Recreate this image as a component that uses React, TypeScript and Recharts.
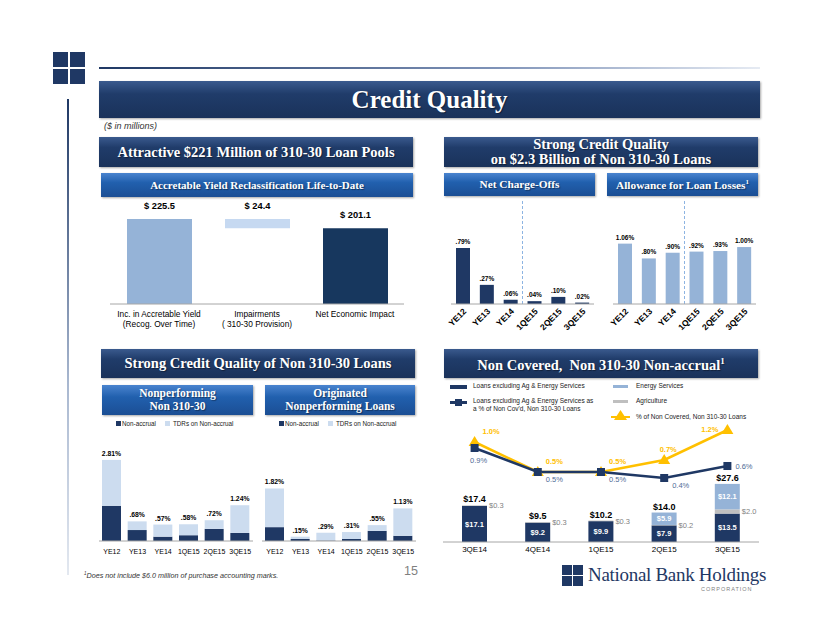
import React from 'react'
import {
  BarChart,
  Bar,
  ComposedChart,
  Line,
  XAxis,
  YAxis,
  LabelList,
  ReferenceLine,
  Cell,
} from 'recharts'

const SANS = "'Liberation Sans', Arial, sans-serif"
const SERIF = "'Liberation Serif', 'Times New Roman', serif"
const NAVY = '#1F3864'
const LIGHT_BLUE = '#95B3D7'
const PALE_BLUE = '#CCDCEF'
const GOLD = '#FFC000'
const AXIS = '#A6A6A6'

// accretable yield waterfall
const ayCategories = ['Inc. in Accretable Yield\n(Recog. Over Time)', 'Impairments\n( 310-30 Provision)', 'Net Economic Impact']
const ayValues = [225.5, 24.4, 201.1]
const ayBase = [0, 201.1, 0] // hidden part under the floating impairment bar
const ayLabels = ['$ 225.5', '$ 24.4', '$ 201.1']
const ayColors = [LIGHT_BLUE, '#C6D9F1', '#17375E']

// net charge-offs / allowance
const periods = ['YE12', 'YE13', 'YE14', '1QE15', '2QE15', '3QE15']
const ncoValues = [0.79, 0.27, 0.06, 0.04, 0.1, 0.02]
const ncoLabels = ['.79%', '.27%', '.06%', '.04%', '.10%', '.02%']
const allowValues = [1.06, 0.8, 0.9, 0.92, 0.93, 1.0]
const allowLabels = ['1.06%', '.80%', '.90%', '.92%', '.93%', '1.00%']

// nonperforming non 310-30
const npNonAccrual = [1.22, 0.38, 0.15, 0.2, 0.42, 0.28]
const npTdr = [1.59, 0.3, 0.42, 0.38, 0.3, 0.96]
const npLabels = ['2.81%', '.68%', '.57%', '.58%', '.72%', '1.24%']

// originated nonperforming
const orgNonAccrual = [0.48, 0.07, 0.02, 0.07, 0.35, 0.18]
const orgTdr = [1.34, 0.08, 0.27, 0.24, 0.2, 0.95]
const orgLabels = ['1.82%', '.15%', '.29%', '.31%', '.55%', '1.13%']

// non covered non-accrual
const nacCategories = ['3QE14', '4QE14', '1QE15', '2QE15', '3QE15']
const nacLoansExcl = [17.1, 9.2, 9.9, 7.9, 13.5]
const nacAg = [0.3, 0.3, 0.3, 0.2, 2.0]
const nacEnergy = [0, 0, 0, 5.9, 12.1]
const nacTotal = [17.4, 9.5, 10.2, 14.0, 27.6]
const nacExclPct = [0.9, 0.5, 0.5, 0.4, 0.6]
const nacTotalPct = [1.0, 0.5, 0.5, 0.7, 1.2]

const ayData = ayCategories.map((name, i) => ({ name, base: ayBase[i], value: ayValues[i], label: ayLabels[i] }))
const ncoData = periods.map((name, i) => ({ name, value: ncoValues[i], label: ncoLabels[i] }))
const allowData = periods.map((name, i) => ({ name, value: allowValues[i], label: allowLabels[i] }))
const npData = periods.map((name, i) => ({ name, na: npNonAccrual[i], tdr: npTdr[i], label: npLabels[i] }))
const orgData = periods.map((name, i) => ({ name, na: orgNonAccrual[i], tdr: orgTdr[i], label: orgLabels[i] }))
const nacData = nacCategories.map((name, i) => ({
  name,
  excl: nacLoansExcl[i],
  ag: nacAg[i],
  energy: nacEnergy[i],
  total: nacTotal[i],
  exclPct: nacExclPct[i],
  totalPct: nacTotalPct[i],
}))

const money = (v: any) => `$${Number(v).toFixed(1)}`

const Header = ({ x, y, w, h, size, light, lh, children }: any) => (
  <div
    style={{
      position: 'absolute',
      left: x,
      top: y,
      width: w,
      height: h,
      background: light
        ? 'linear-gradient(#4A84CF, #2160AE 40%, #1B4E94)'
        : 'linear-gradient(#3A5A8E, #203C6A 35%, #1A325A)',
      boxShadow: '1px 1px 2px rgba(0,0,0,0.35)',
      color: '#fff',
      fontFamily: SERIF,
      fontWeight: 'bold',
      fontSize: size,
      lineHeight: `${lh || size}px`,
      display: 'flex',
      alignItems: 'center',
      justifyContent: 'center',
      textAlign: 'center',
      textShadow: '1px 1px 1px rgba(0,0,0,0.4)',
    }}
  >
    <div>{children}</div>
  </div>
)

const TwoLineTick = ({ x, y, payload }: any) => {
  const lines = String(payload.value).split('\n')
  return (
    <text x={x} y={y + 5} textAnchor="middle" fontSize={8.3} fill="#000" fontFamily={SANS}>
      {lines.map((l, i) => (
        <tspan key={i} x={x} dy={i === 0 ? 0 : 9.5}>
          {l}
        </tspan>
      ))}
    </text>
  )
}

const RotatedTick = ({ x, y, payload }: any) => (
  <text
    x={x + 4}
    y={y}
    textAnchor="end"
    transform={`rotate(-45 ${x + 4} ${y})`}
    fontSize={8.5}
    fontWeight="bold"
    fill="#000"
    fontFamily={SANS}
  >
    {payload.value}
  </text>
)

const PlainTick = ({ x, y, payload, dy, size }: any) => (
  <text x={x} y={y + (dy || 5)} textAnchor="middle" fontSize={size || 8} fill="#000" fontFamily={SANS}>
    {payload.value}
  </text>
)

const SquareDot = (p: any) =>
  p.cx == null ? null : <rect key={p.index} x={p.cx - 4} y={p.cy - 4} width={8} height={8} fill={NAVY} />

const TriDot = (p: any) =>
  p.cx == null ? null : (
    <polygon
      key={p.index}
      points={`${p.cx},${p.cy - 6} ${p.cx + 6},${p.cy + 4} ${p.cx - 6},${p.cy + 4}`}
      fill={GOLD}
    />
  )

const GoldLabel = (p: any) => {
  const last = p.index === nacData.length - 1
  const rising = p.index === nacData.length - 2
  const x = last ? p.x - 9 : rising ? p.x + 4 : p.x + 8
  const anchor = last ? 'end' : rising ? 'middle' : 'start'
  return (
    <text x={x} y={last ? p.y + 2 : p.y - 8} textAnchor={anchor} fill={GOLD} fontSize={7.5} fontWeight="bold" fontFamily={SANS}>
      {`${Number(p.value).toFixed(1)}%`}
    </text>
  )
}

const NavyLabel = (p: any) => {
  const first = p.index === 0
  const last = p.index === nacData.length - 1
  return (
    <text
      x={first ? p.x + 4 : p.x + 8}
      y={first ? p.y + 15 : last ? p.y + 3 : p.y + 10}
      textAnchor={first ? 'middle' : 'start'}
      fill="#4E6B96"
      fontSize={7.5}
      fontFamily={SANS}
    >
      {`${Number(p.value).toFixed(1)}%`}
    </text>
  )
}

const TotalLabel = (p: any) => (
  <text x={p.x} y={p.y - 3} textAnchor="middle" fill="#000" fontSize={9} fontWeight="bold" fontFamily={SANS}>
    {money(p.value)}
  </text>
)

const SmallBarChart = ({ data, color, max, refColor }: any) => (
  <BarChart width={156} height={136} data={data} margin={{ top: 0, right: 4, left: 9, bottom: 0 }} barSize={14}>
    <XAxis
      dataKey="name"
      interval={0}
      tickLine={false}
      axisLine={{ stroke: AXIS }}
      height={32}
      tick={<RotatedTick />}
    />
    <YAxis hide domain={[0, max]} allowDataOverflow />
    <ReferenceLine x="1QE15" position="start" stroke={refColor} strokeDasharray="3 2" ifOverflow="visible" />
    <Bar dataKey="value" fill={color} isAnimationActive={false}>
      <LabelList dataKey="label" position="top" offset={4} fontSize={6.5} fontWeight="bold" fill="#000" fontFamily={SANS} />
    </Bar>
  </BarChart>
)

const StackedChart = ({ data }: any) => (
  <BarChart width={165} height={121} data={data} margin={{ top: 0, right: 7, left: 4, bottom: 0 }} barSize={19}>
    <XAxis
      dataKey="name"
      interval={0}
      tickLine={false}
      axisLine={{ stroke: AXIS }}
      height={20}
      tick={<PlainTick dy={5} size={7} />}
    />
    <YAxis hide domain={[0, 3.5]} />
    <Bar dataKey="na" stackId="a" fill={NAVY} isAnimationActive={false} />
    <Bar dataKey="tdr" stackId="a" fill={PALE_BLUE} isAnimationActive={false}>
      <LabelList dataKey="label" position="top" offset={4} fontSize={6.8} fontWeight="bold" fill="#000" fontFamily={SANS} />
    </Bar>
  </BarChart>
)

const MiniLegend = ({ x, y }: any) => (
  <div style={{ position: 'absolute', left: x, top: y, fontFamily: SANS, fontSize: 6.3, color: '#222', whiteSpace: 'nowrap', display: 'flex', alignItems: 'center' }}>
    <span style={{ display: 'inline-block', width: 5, height: 5, background: NAVY, marginRight: 1 }} />
    <span>Non-accrual</span>
    <span style={{ display: 'inline-block', width: 5, height: 5, background: PALE_BLUE, marginLeft: 9, marginRight: 3 }} />
    <span>TDRs on Non-accrual</span>
  </div>
)

const legendText: any = { position: 'absolute', fontFamily: SANS, fontSize: 6.5, color: '#222', whiteSpace: 'nowrap', lineHeight: '8px' }

export default function App() {
  return (
    <div style={{ position: 'absolute', left: 0, top: 0, width: 822, height: 635, background: '#fff', overflow: 'hidden', fontFamily: SANS }}>
      {/* frame decorations */}
      {[0, 1].map((r) =>
        [0, 1].map((c) => (
          <div key={`${r}${c}`} style={{ position: 'absolute', left: 53 + c * 17, top: 52 + r * 17, width: 15, height: 15, background: NAVY }} />
        ))
      )}
      <div style={{ position: 'absolute', left: 99, top: 67, width: 661, height: 2, background: 'linear-gradient(to right, #1F3864, #7F93B8 60%, #E6EBF3)' }} />
      <div style={{ position: 'absolute', left: 67, top: 99, width: 2, height: 476, background: 'linear-gradient(#1F3864, #A9B8D0 60%, #E3E8F0)' }} />

      <Header x={99} y={81} w={661} h={37} size={25}>Credit Quality</Header>
      <div style={{ position: 'absolute', left: 104, top: 121, fontSize: 9, fontStyle: 'italic', color: '#333' }}>($ in millions)</div>

      <Header x={99} y={137} w={314} h={30} size={14.5}>Attractive $221 Million of 310-30 Loan Pools</Header>
      <Header x={444} y={137} w={314} h={30} size={14.5} lh={15}>
        Strong Credit Quality
        <br />
        on $2.3 Billion of Non 310-30 Loans
      </Header>
      <Header x={101} y={173} w={312} h={24} size={11} light>Accretable Yield Reclassification Life-to-Date</Header>
      <Header x={444} y={173} w={151} h={23} size={11.3} light>Net Charge-Offs</Header>
      <Header x={607} y={173} w={151} h={23} size={11.3} light>
        Allowance for Loan Losses<sup style={{ fontSize: 7 }}>1</sup>
      </Header>

      {/* accretable yield waterfall */}
      <div style={{ position: 'absolute', left: 97, top: 198 }}>
        <BarChart width={320} height={135} data={ayData} margin={{ top: 0, right: 13, left: 13, bottom: 0 }} barSize={65}>
          <XAxis dataKey="name" interval={0} tickLine={false} axisLine={{ stroke: AXIS }} height={29} tick={<TwoLineTick />} />
          <YAxis hide domain={[0, 281]} />
          <Bar dataKey="base" stackId="w" fill="transparent" isAnimationActive={false} />
          <Bar dataKey="value" stackId="w" isAnimationActive={false}>
            {ayData.map((d, i) => (
              <Cell key={d.name} fill={ayColors[i]} />
            ))}
            <LabelList dataKey="label" position="top" offset={10} fontSize={9.3} fontWeight="bold" fill="#000" fontFamily={SANS} />
          </Bar>
        </BarChart>
      </div>

      {/* net charge-offs */}
      <div style={{ position: 'absolute', left: 442, top: 200 }}>
        <SmallBarChart data={ncoData} color={NAVY} max={1.467} refColor="#8DB4E2" />
      </div>

      {/* allowance */}
      <div style={{ position: 'absolute', left: 604, top: 200 }}>
        <SmallBarChart data={allowData} color={LIGHT_BLUE} max={1.826} refColor="#8DB4E2" />
      </div>

      <Header x={101} y={349} w={314} h={29} size={14.5}>Strong Credit Quality of Non 310-30 Loans</Header>
      <Header x={444} y={349} w={314} h={29} size={14.5}>
        Non Covered,&nbsp; Non 310-30 Non-accrual<sup style={{ fontSize: 9 }}>1</sup>
      </Header>
      <Header x={102} y={385} w={151} h={30} size={11.5} lh={13} light>
        Nonperforming
        <br />
        Non 310-30
      </Header>
      <Header x={265} y={385} w={150} h={30} size={11.5} lh={13} light>
        Originated
        <br />
        Nonperforming Loans
      </Header>

      <MiniLegend x={116} y={420} />
      <MiniLegend x={279} y={420} />

      <div style={{ position: 'absolute', left: 95, top: 440 }}>
        <StackedChart data={npData} />
      </div>
      <div style={{ position: 'absolute', left: 258, top: 440 }}>
        <StackedChart data={orgData} />
      </div>

      {/* non covered legend */}
      <div style={{ position: 'absolute', left: 450, top: 385, width: 17, height: 4, background: NAVY }} />
      <div style={{ ...legendText, left: 473, top: 382 }}>Loans excluding Ag &amp; Energy Services</div>
      <div style={{ position: 'absolute', left: 450, top: 401, width: 17, height: 3, background: NAVY }} />
      <div style={{ position: 'absolute', left: 455, top: 399, width: 7, height: 7, background: NAVY }} />
      <div style={{ ...legendText, left: 473, top: 397 }}>
        Loans excluding Ag &amp; Energy Services as
        <br />
        a % of Non Cov'd, Non 310-30 Loans
      </div>
      <div style={{ position: 'absolute', left: 613, top: 385, width: 15, height: 3, background: LIGHT_BLUE }} />
      <div style={{ ...legendText, left: 636, top: 382 }}>Energy Services</div>
      <div style={{ position: 'absolute', left: 613, top: 400, width: 15, height: 3, background: '#BFBFBF' }} />
      <div style={{ ...legendText, left: 636, top: 397 }}>Agriculture</div>
      <div style={{ position: 'absolute', left: 611, top: 416, width: 19, height: 2, background: GOLD }} />
      <svg style={{ position: 'absolute', left: 614, top: 410 }} width={13} height={11}>
        <polygon points="6.5,0 13,10 0,10" fill={GOLD} />
      </svg>
      <div style={{ ...legendText, left: 636, top: 413 }}>% of Non Covered, Non 310-30 Loans</div>

      {/* non covered non-accrual chart */}
      <div style={{ position: 'absolute', left: 440, top: 422 }}>
        <ComposedChart width={325} height={136} data={nacData} margin={{ top: 0, right: 6, left: 3, bottom: 0 }} barSize={25}>
          <XAxis dataKey="name" interval={0} tickLine={false} axisLine={{ stroke: AXIS }} height={16} tick={<PlainTick dy={2} />} />
          <YAxis yAxisId="l" hide domain={[0, 57]} />
          <YAxis yAxisId="r" hide orientation="right" domain={[-0.6667, 1.3333]} />
          <Bar yAxisId="l" dataKey="excl" stackId="s" fill={NAVY} isAnimationActive={false}>
            <LabelList dataKey="excl" position="center" formatter={money} fill="#fff" fontSize={7.5} fontWeight="bold" fontFamily={SANS} />
          </Bar>
          <Bar yAxisId="l" dataKey="ag" stackId="s" fill="#BFBFBF" isAnimationActive={false}>
            <LabelList dataKey="ag" position="right" offset={2} formatter={money} fill="#7F7F7F" fontSize={7.5} fontFamily={SANS} />
          </Bar>
          <Bar yAxisId="l" dataKey="energy" stackId="s" fill={LIGHT_BLUE} isAnimationActive={false}>
            <LabelList
              dataKey="energy"
              position="center"
              formatter={(v: any) => (Number(v) > 0 ? money(v) : '')}
              fill="#fff"
              fontSize={7.5}
              fontWeight="bold"
              fontFamily={SANS}
            />
          </Bar>
          {/* invisible line carrying the stack totals */}
          <Line yAxisId="l" dataKey="total" stroke="none" dot={false} activeDot={false} isAnimationActive={false}>
            <LabelList dataKey="total" content={TotalLabel} />
          </Line>
          <Line yAxisId="r" dataKey="totalPct" stroke={GOLD} strokeWidth={2.5} dot={TriDot} isAnimationActive={false}>
            <LabelList dataKey="totalPct" content={GoldLabel} />
          </Line>
          <Line yAxisId="r" dataKey="exclPct" stroke={NAVY} strokeWidth={2.5} dot={SquareDot} isAnimationActive={false}>
            <LabelList dataKey="exclPct" content={NavyLabel} />
          </Line>
        </ComposedChart>
      </div>

      {/* footer */}
      <div style={{ position: 'absolute', left: 84, top: 571, fontSize: 7.2, fontStyle: 'italic', color: '#333', whiteSpace: 'nowrap' }}>
        <sup style={{ fontSize: 4.5 }}>1</sup>Does not include $6.0 million of purchase accounting marks.
      </div>
      <div style={{ position: 'absolute', left: 404, top: 564, fontSize: 12.6, color: '#7F7F7F' }}>15</div>
      {[0, 1].map((r) =>
        [0, 1].map((c) => (
          <div key={`l${r}${c}`} style={{ position: 'absolute', left: 562 + c * 11, top: 565 + r * 11, width: 10, height: 10, background: NAVY }} />
        ))
      )}
      <div style={{ position: 'absolute', left: 588, top: 564, fontFamily: SERIF, fontSize: 19, color: NAVY, whiteSpace: 'nowrap', letterSpacing: -0.3 }}>
        National Bank Holdings
      </div>
      <div style={{ position: 'absolute', left: 701, top: 586, fontSize: 5.5, color: '#7F7F7F', letterSpacing: 1 }}>CORPORATION</div>
    </div>
  )
}
